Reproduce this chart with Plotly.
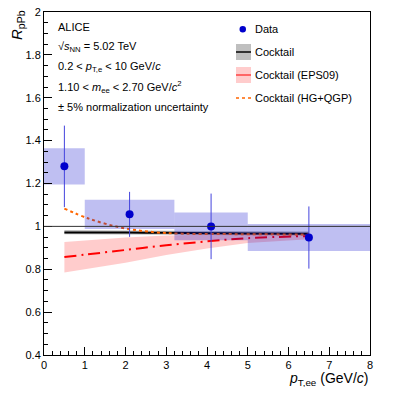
import plotly.graph_objects as go

# measured RpPb, pT bin centres and bin edges (boxes = systematics)
pt = [0.5, 2.1, 4.1, 6.5]
bin_lo = [0.0, 1.0, 3.2, 5.0]
bin_hi = [1.0, 3.2, 5.0, 8.0]
rppb = [1.28, 1.056, 1.0, 0.948]
stat = [0.19, 0.105, 0.153, 0.145]
syst = [0.085, 0.068, 0.065, 0.063]

# cocktail curves
curve_x = [0.5, 1.0, 2.0, 3.0, 4.0, 5.0, 6.5]
cocktail = [0.972, 0.972, 0.971, 0.970, 0.968, 0.967, 0.966]
cocktail_hi = [0.983, 0.983, 0.982, 0.980, 0.978, 0.977, 0.976]
cocktail_lo = [0.963, 0.963, 0.962, 0.961, 0.959, 0.958, 0.957]

eps09 = [0.857, 0.868, 0.890, 0.912, 0.930, 0.945, 0.955]
eps09_hi = [0.927, 0.935, 0.948, 0.957, 0.962, 0.965, 0.966]
eps09_lo = [0.785, 0.800, 0.830, 0.866, 0.897, 0.922, 0.940]

hgqgp_x = [0.5, 1.1, 1.9, 2.7, 3.4, 4.5, 6.5]
hgqgp = [1.083, 1.036, 0.994, 0.973, 0.966, 0.964, 0.962]

y_ticks = [0.4, 0.6, 0.8, 1.0, 1.2, 1.4, 1.6, 1.8, 2.0]
y_labels = ["0.4", "0.6", "0.8", "1", "1.2", "1.4", "1.6", "1.8", "2"]

FONT = "Liberation Sans, Arial, sans-serif"
BLUE_BOX = "rgba(0,0,204,0.25)"
GRAY_BAND = "rgba(128,128,128,0.5)"
PINK_BAND = "rgba(255,0,0,0.2)"
ORANGE = "#ff6600"

fig = go.Figure()

# bands
fig.add_trace(go.Scatter(x=curve_x + curve_x[::-1], y=cocktail_hi + cocktail_lo[::-1],
                         mode="lines", fill="toself", fillcolor=GRAY_BAND,
                         line=dict(width=0), hoverinfo="skip"))
fig.add_trace(go.Scatter(x=curve_x + curve_x[::-1], y=eps09_hi + eps09_lo[::-1],
                         mode="lines", fill="toself", fillcolor=PINK_BAND,
                         line=dict(width=0), hoverinfo="skip"))
fig.add_trace(go.Scatter(x=curve_x, y=cocktail, mode="lines",
                         line=dict(color="black", width=2, shape="spline")))
fig.add_trace(go.Scatter(x=curve_x, y=eps09, mode="lines",
                         line=dict(color="red", width=2, dash="12px,5px,2px,5px", shape="spline")))
fig.add_trace(go.Scatter(x=hgqgp_x, y=hgqgp, mode="lines",
                         line=dict(color=ORANGE, width=2, dash="dot", shape="spline")))

# systematic boxes
for lo, hi, r, s in zip(bin_lo, bin_hi, rppb, syst):
    fig.add_trace(go.Scatter(x=[lo, hi, hi, lo, lo], y=[r - s, r - s, r + s, r + s, r - s],
                             fill="toself", fillcolor=BLUE_BOX, line=dict(width=0),
                             mode="lines", hoverinfo="skip"))

fig.add_hline(y=1, line=dict(color="#333333", width=1))

# data with statistical errors
fig.add_trace(go.Scatter(x=pt, y=rppb, mode="markers",
                         marker=dict(color="#0000cc", size=8),
                         error_y=dict(type="data", array=stat, color="#4444dd",
                                      thickness=1, width=0)))

# ---- text on the left
left_text = [
    ("ALICE", 26.7),
    ("√<i>s</i><sub>NN</sub> = 5.02 TeV", 46.7),
    ("0.2 < <i>p</i><sub>T,e</sub> < 10 GeV/<i>c</i>", 66.5),
    ("1.10 < <i>m</i><sub>ee</sub> < 2.70 GeV/<i>c</i><sup>2</sup>", 86.5),
    ("± 5% normalization uncertainty", 107.5),
]

# plot frame in window pixels (page body has an 8px margin)
L, R, T, B = 44, 370, 12, 355
OFF = 8
W, H = 391, 379


def px(x):
    return (x - L) / (R - L)


def py(y):
    return (B - y) / (B - T)


for txt, ypix in left_text:
    fig.add_annotation(x=px(56), y=py(ypix), xref="paper", yref="paper", text=txt,
                       showarrow=False, xanchor="left", yanchor="middle",
                       font=dict(size=11, color="black"))

# ---- hand made legend
legend_items = ["Data", "Cocktail", "Cocktail (EPS09)", "Cocktail (HG+QGP)"]
legend_y = [29.3, 52.3, 75.3, 98.3]
for txt, ypix in zip(legend_items, legend_y):
    fig.add_annotation(x=px(253), y=py(ypix), xref="paper", yref="paper", text=txt,
                       showarrow=False, xanchor="left", yanchor="middle",
                       font=dict(size=11, color="black"))

fig.add_shape(type="circle", xref="paper", yref="paper",
              x0=px(239.5), x1=px(246), y0=py(26), y1=py(32.5),
              fillcolor="#0000cc", line=dict(width=0))
fig.add_shape(type="rect", xref="paper", yref="paper",
              x0=px(236), x1=px(251), y0=py(44), y1=py(60),
              fillcolor=GRAY_BAND, line=dict(width=0))
fig.add_shape(type="line", xref="paper", yref="paper",
              x0=px(236), x1=px(251), y0=py(52), y1=py(52),
              line=dict(color="#333333", width=2))
fig.add_shape(type="rect", xref="paper", yref="paper",
              x0=px(236), x1=px(251), y0=py(67), y1=py(83),
              fillcolor=PINK_BAND, line=dict(width=0))
fig.add_shape(type="line", xref="paper", yref="paper",
              x0=px(236), x1=px(251), y0=py(75), y1=py(75),
              line=dict(color="red", width=1))
fig.add_shape(type="line", xref="paper", yref="paper",
              x0=px(236), x1=px(251), y0=py(98), y1=py(98),
              line=dict(color=ORANGE, width=1.5, dash="dot"))

# axis titles
fig.add_annotation(x=px(370), y=py(379), xref="paper", yref="paper",
                   text="<i>p</i><sub>T,ee</sub> (GeV/<i>c</i>)", showarrow=False,
                   xanchor="right", yanchor="middle", font=dict(size=14, color="black"))
fig.add_annotation(x=px(17), y=py(8), xref="paper", yref="paper",
                   text="<i>R</i><sub>pPb</sub>", showarrow=False, textangle=-90,
                   xanchor="center", yanchor="top", font=dict(size=15, color="black"))

axis_common = dict(showline=True, mirror=True, linecolor="black", linewidth=1,
                   ticks="inside", ticklen=8, tickcolor="black", showgrid=False,
                   zeroline=False, automargin=False, ticklabeloverflow="allow",
                   tickfont=dict(size=11, color="black"))

fig.update_xaxes(range=[0, 8], dtick=1, tick0=0,
                 minor=dict(dtick=0.2, ticks="inside", ticklen=4, tickcolor="black"),
                 **axis_common)
fig.update_yaxes(range=[0.4, 2.0], tickmode="array", tickvals=y_ticks, ticktext=y_labels,
                 minor=dict(dtick=0.05, tick0=0.4, ticks="inside", ticklen=4,
                            tickcolor="black"),
                 **axis_common)

fig.update_layout(width=W, height=H, showlegend=False,
                  margin=dict(l=L - OFF, r=W - (R - OFF), t=T - OFF, b=H - (B - OFF),
                              autoexpand=False),
                  plot_bgcolor="white", paper_bgcolor="white",
                  font=dict(family=FONT, size=11, color="black"))

fig.write_html("out.html")
